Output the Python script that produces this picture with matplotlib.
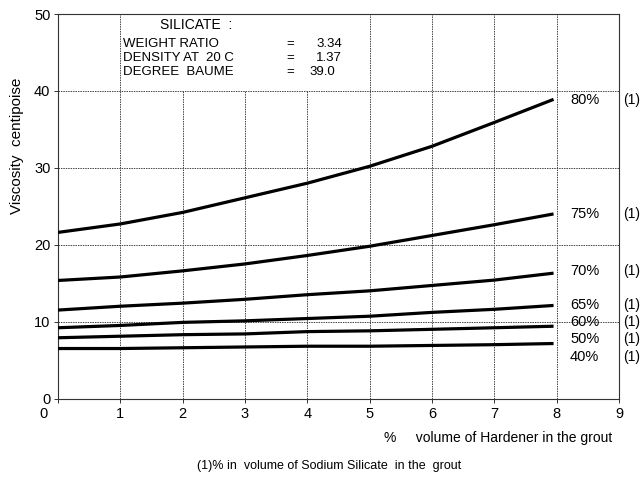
import matplotlib
matplotlib.use("Agg")
import matplotlib.pyplot as plt
from matplotlib.transforms import ScaledTranslation

plt.rcParams['font.family'] = ['Liberation Sans', 'DejaVu Sans']

# ---- data ----
hardener = [0, 1, 2, 3, 4, 5, 6, 7, 7.95]
visc_80 = [21.6, 22.7, 24.2, 26.1, 28.0, 30.2, 32.8, 35.9, 38.9]
visc_75 = [15.35, 15.8, 16.6, 17.5, 18.6, 19.8, 21.2, 22.6, 24.0]
visc_70 = [11.5, 12.0, 12.4, 12.9, 13.5, 14.0, 14.7, 15.4, 16.3]
visc_65 = [9.2, 9.5, 9.9, 10.1, 10.4, 10.7, 11.2, 11.6, 12.1]
visc_60 = [7.9, 8.1, 8.3, 8.4, 8.7, 8.8, 9.0, 9.2, 9.4]
visc_50 = [6.5, 6.5, 6.6, 6.7, 6.8, 6.8, 6.9, 7.0, 7.15]

curve_labels = ['80%', '75%', '70%', '65%', '60%', '50%', '40%']
label_y = [38.8, 24.0, 16.6, 12.1, 10.0, 7.8, 5.4]

x_ticks = [0, 1, 2, 3, 4, 5, 6, 7, 8, 9]
y_ticks = [0, 10, 20, 30, 40, 50]

info_names = ['WEIGHT RATIO', 'DENSITY AT  20 C', 'DEGREE  BAUME']
info_values = ['3.34', '1.37', '39.0']

# ---- figure ----
fig = plt.figure(figsize=(6.4, 4.78), dpi=100)
ax = fig.add_axes([0.0906, 0.1663, 0.8766, 0.8044])
ax.set_xlim(0, 9)
ax.set_ylim(0, 50)

grid_kw = dict(color='#444444', lw=0.7, linestyle=(0, (1.5, 1)), zorder=1)
for yv in y_ticks[1:-1]:
    ax.hlines(yv, 0, 9, **grid_kw)
# vertical grid lines (x=2..4 stop below the info box)
for xv in x_ticks[1:-1]:
    top = 40 if xv in (2, 3, 4) else 50
    ax.vlines(xv, 0, top, **grid_kw)

for s in ax.spines.values():
    s.set_color('#333333')
    s.set_linewidth(0.8)
    s.set_linestyle((0, (2, 0.6)))

series = [visc_80, visc_75, visc_70, visc_65, visc_60, visc_50]
for v in series:
    ax.plot(hardener, v, color='black', lw=2.3, solid_capstyle='butt', zorder=3)

for lab, yv in zip(curve_labels, label_y):
    ax.text(8.45, yv, lab, ha='center', va='center', fontsize=10.5, zorder=2)
    ax.text(9.07, yv, '(1)', ha='left', va='center', fontsize=10, clip_on=False)

ax.set_xticks(x_ticks)
ax.set_yticks(y_ticks)
ax.tick_params(axis='both', length=3, width=0.7, color='#333333', labelsize=10.5)
ax.tick_params(axis='x', pad=3)
ax.tick_params(axis='y', pad=2.5)
fig.canvas.draw()
for t in ax.get_xticklabels():
    if t.get_text() == '0':
        t.set_transform(t.get_transform() + ScaledTranslation(-0.14, 0, fig.dpi_scale_trans))

# info box text
ax.text(1.64, 48.6, 'SILICATE  :', ha='left', va='center', fontsize=10)
for i, (nm, val) in enumerate(zip(info_names, info_values)):
    yy = 46.1 - i * 1.8
    ax.text(1.05, yy, nm, ha='left', va='center', fontsize=9.5)
    ax.text(3.66, yy, '=', ha='left', va='center', fontsize=9.5)
    ax.text(4.56 if i < 2 else 4.45, yy, val, ha='right', va='center', fontsize=9.5)

fig.text(0.027, 0.695, 'Viscosity  centipoise', rotation=90, ha='center', va='center', fontsize=11)
fig.text(0.6, 0.084, '%     volume of Hardener in the grout', ha='left', va='center', fontsize=10)
fig.text(0.515, 0.026, '(1)% in  volume of Sodium Silicate  in the  grout', ha='center', va='center', fontsize=9)

fig.savefig('out.png', dpi=100)
